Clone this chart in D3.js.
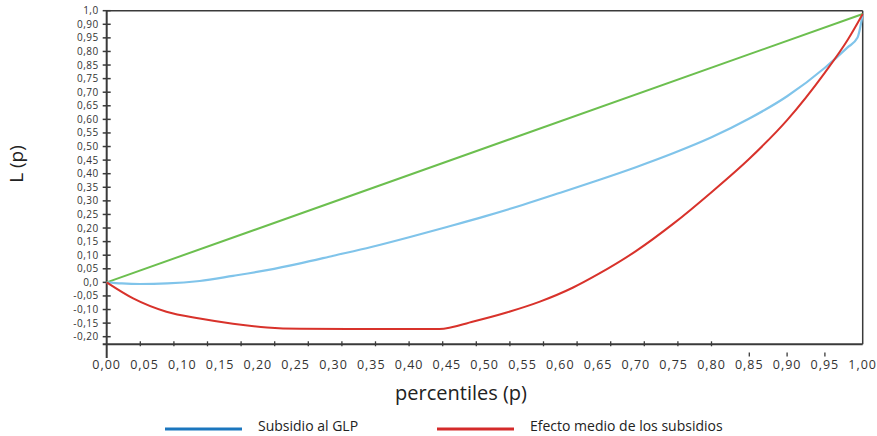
<!DOCTYPE html>
<html><head><meta charset="utf-8">
<script src="https://cdn.jsdelivr.net/npm/d3@7"></script>
<style>
body{margin:0;background:#fff;}
svg{display:block;}
.tick-label{font-family:"Open Sans",sans-serif;fill:#333;}
.title{font-family:"Open Sans",sans-serif;fill:#222;}
</style></head><body>
<script>
const xLabelValues = [0,0.05,0.10,0.15,0.20,0.25,0.30,0.35,0.40,0.45,0.50,0.55,0.60,0.65,0.70,0.75,0.80,0.85,0.90,0.95,1.00];
const xLabels = ["0,00","0,05","0,10","0,15","0,20","0,25","0,30","0,35","0,40","0,45","0,50","0,55","0,60","0,65","0,70","0,75","0,80","0,85","0,90","0,95","1,00"];
const xTickMarks = [1,2,3,4,5,6,7,8,9,10,11,12,13,14,15,16,17,18].map(k => k/22.5);
const xUpperMarks = [0.85,0.90,0.95];
const yTickValues = [1.0,0.95,0.90,0.85,0.80,0.75,0.70,0.65,0.60,0.55,0.50,0.45,0.40,0.35,0.30,0.25,0.20,0.15,0.10,0.05,0,-0.05,-0.10,-0.15,-0.20];
const yLabels = ["1,0","0,90","0,95","0,80","0,85","0,75","0,70","0,65","0,60","0,55","0,50","0,45","0,40","0,35","0,30","0,25","0,20","0,15","0,10","0,05","0,0","-0,05","-0,10","-0,15","-0,20"];

const greenP = [0, 1];
const greenL = [0, 0.988];
const blueP = [0,0.02,0.044,0.08,0.123,0.167,0.212,0.256,0.30,0.35,0.40,0.45,0.50,0.55,0.60,0.65,0.70,0.75,0.80,0.85,0.90,0.95,0.98,0.993,1.0];
const blueL = [0,-0.004,-0.006,-0.004,0.005,0.024,0.045,0.070,0.098,0.130,0.166,0.204,0.243,0.285,0.330,0.376,0.424,0.476,0.534,0.603,0.685,0.790,0.865,0.900,0.988];
const redP = [0,0.035,0.079,0.123,0.167,0.212,0.256,0.32,0.38,0.44,0.485,0.529,0.573,0.617,0.65,0.70,0.75,0.80,0.85,0.90,0.95,0.98,1.0];
const redL = [0,-0.059,-0.108,-0.133,-0.152,-0.166,-0.171,-0.172,-0.172,-0.172,-0.144,-0.111,-0.071,-0.019,0.030,0.115,0.217,0.332,0.455,0.597,0.772,0.892,0.988];
const legendNames = ["Subsidio al GLP","Efecto medio de los subsidios"];

const W = 877, H = 436;
const svg = d3.select("body").append("svg").attr("width", W).attr("height", H);
const x = d3.scaleLinear().domain([0,1]).range([106.7,862.7]);
const y = d3.scaleLinear().domain([-0.228,1]).range([344.3,10.7]);
const axisColor = "#3a3a3a";

// frame top & right
svg.append("line").attr("x1", x(0)).attr("x2", x(1)).attr("y1", y(1)).attr("y2", y(1)).attr("stroke", axisColor).attr("stroke-width", 1.5);
svg.append("line").attr("x1", x(1)).attr("x2", x(1)).attr("y1", y(1)).attr("y2", y(-0.228)).attr("stroke", axisColor).attr("stroke-width", 1.5);

// y axis
svg.append("line").attr("x1", x(0)).attr("x2", x(0)).attr("y1", y(1)).attr("y2", 358).attr("stroke", axisColor).attr("stroke-width", 2);
const yt = svg.append("g");
yt.selectAll("line").data(yTickValues).join("line")
  .attr("x1", x(0)-4).attr("x2", x(0)+4).attr("y1", d=>y(d)).attr("y2", d=>y(d))
  .attr("stroke", axisColor).attr("stroke-width", 1.5);
yt.selectAll("text").data(yTickValues).join("text").attr("class","tick-label")
  .attr("x", x(0)-8).attr("y", d=>y(d)).attr("dy","0.35em").attr("text-anchor","end")
  .attr("font-size","10px").attr("letter-spacing","0.5px")
  .text((d,i)=>yLabels[i]);

// x axis
svg.append("line").attr("x1", x(0)-4).attr("x2", x(1)).attr("y1", y(-0.228)).attr("y2", y(-0.228)).attr("stroke", axisColor).attr("stroke-width", 2);
const xt = svg.append("g");
xt.selectAll("line.m").data(xTickMarks).join("line").attr("class","m")
  .attr("x1", d=>x(d)).attr("x2", d=>x(d)).attr("y1", y(-0.228)-3).attr("y2", y(-0.228)+2)
  .attr("stroke", axisColor).attr("stroke-width", 1.3);
xt.selectAll("line.u").data(xUpperMarks).join("line").attr("class","u")
  .attr("x1", d=>x(d)).attr("x2", d=>x(d)).attr("y1", 352.5).attr("y2", 356.5)
  .attr("stroke", axisColor).attr("stroke-width", 1.3);
xt.selectAll("text").data(xLabelValues).join("text").attr("class","tick-label")
  .attr("x", d=>x(d)).attr("y", 369).attr("text-anchor","middle")
  .attr("font-size", "12.5px").attr("letter-spacing","1px")
  .text((d,i)=>xLabels[i]);

// lines
const line = d3.line().x(d=>x(d[0])).y(d=>y(d[1])).curve(d3.curveMonotoneX);
const plot = svg.append("g");
plot.append("path").datum(greenP.map((p,i)=>[p,greenL[i]])).attr("d", line)
  .attr("fill","none").attr("stroke","#6cbf4f").attr("stroke-width",2);
plot.append("path").datum(blueP.map((p,i)=>[p,blueL[i]])).attr("d", line)
  .attr("fill","none").attr("stroke","#80c4ea").attr("stroke-width",2.2);
plot.append("path").datum(redP.map((p,i)=>[p,redL[i]])).attr("d", line)
  .attr("fill","none").attr("stroke","#d8322b").attr("stroke-width",2);

// titles
svg.append("text").attr("class","title").attr("x", 461).attr("y", 400)
  .attr("text-anchor","middle").attr("font-size","20px").text("percentiles (p)");
svg.append("text").attr("class","title").attr("transform","translate(23,164) rotate(-90)")
  .attr("text-anchor","middle").attr("font-size","19px").text("L (p)");

// legend
const legendColors = ["#1b76be","#d42a2a"];
const legendX = [165, 437];
const lg = svg.append("g");
lg.selectAll("line").data(legendNames).join("line")
  .attr("x1",(d,i)=>legendX[i]).attr("x2",(d,i)=>legendX[i]+77)
  .attr("y1",429).attr("y2",429).attr("stroke",(d,i)=>legendColors[i]).attr("stroke-width",3);
lg.selectAll("text").data(legendNames).join("text").attr("class","title")
  .attr("x",(d,i)=>legendX[i]+93).attr("y",427).attr("dy","0.32em")
  .attr("font-size","14px").attr("fill","#333").text(d=>d);
</script>
</body></html>
